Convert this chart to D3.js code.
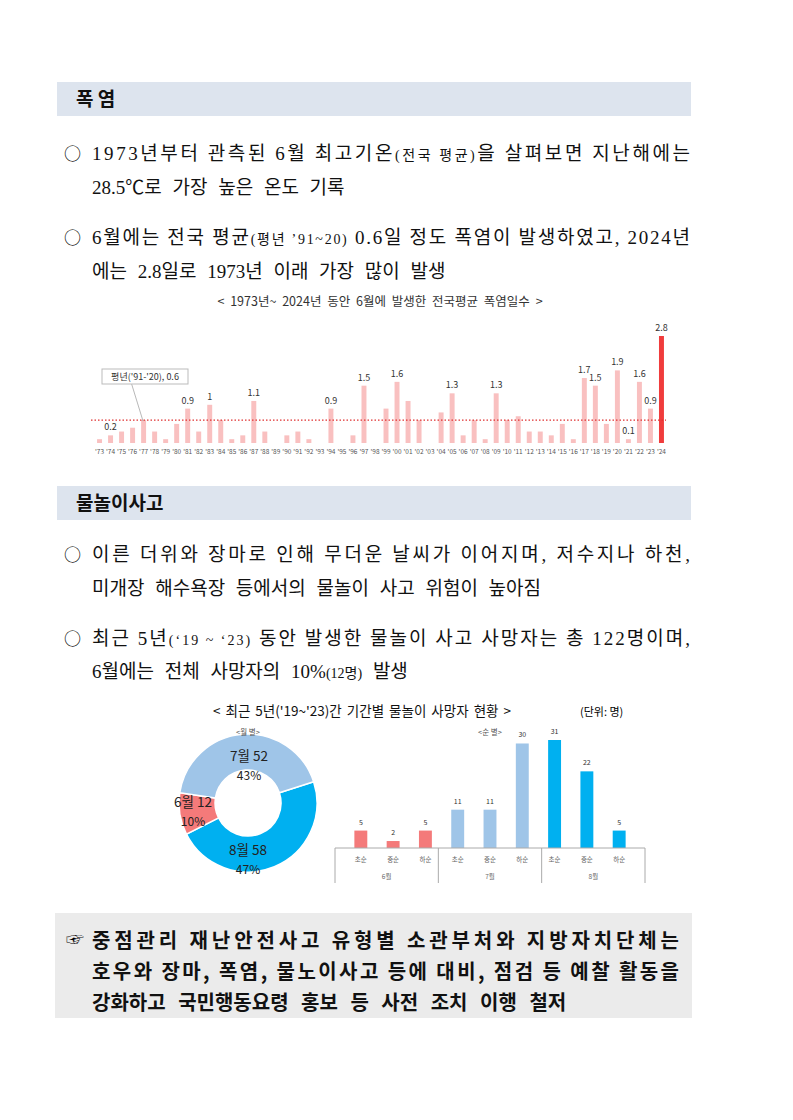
<!DOCTYPE html>
<html><head><meta charset="utf-8">
<script src="https://cdn.jsdelivr.net/npm/d3@7"></script>
<style>body{margin:0;background:#fff}svg{display:block}</style>
</head><body>
<svg id="page" width="793" height="1120"></svg>
<script>
// 폭염일수 데이터 (1973~2024)
const years = d3.range(1973, 2025);
const heatDays = [0.1,0.2,0.3,0.4,0.6,0.3,0.1,0.5,0.9,0.3,1.0,0.6,0.1,0.2,1.1,0.3,0,0.2,0.3,0.1,0,0.9,0,0.2,1.5,0,0.9,1.6,1.1,0.6,0,0.8,1.3,0.2,0.6,0.1,1.3,0.6,0.7,0.3,0.3,0.2,0.5,0.1,1.7,1.5,0.5,1.9,0.1,1.6,0.9,2.8];
const labeledYears = [1974,1981,1983,1987,1994,1997,2000,2005,2009,2017,2018,2020,2021,2022,2023,2024];
const normal = 0.6;

// 물놀이 사망자
const months = ["8월", "6월", "7월"];
const monthDeaths = [58, 12, 52];
const monthPct = ["47%", "10%", "43%"];
const periods = ["초순", "중순", "하순"];
const periodMonths = ["6월", "7월", "8월"];
const periodDeaths = [5, 2, 5, 11, 11, 30, 31, 22, 5];

const svg = d3.select("#page");
const KR = "'Noto Sans CJK KR', sans-serif";
const SERIF = "'Liberation Serif', 'Noto Sans CJK KR', serif";

function header(y, label) {
  svg.append("rect").attr("x", 57).attr("y", y).attr("width", 634).attr("height", 34).attr("fill", "#dde4ee");
  svg.append("text").attr("x", 76).attr("y", y + 24).attr("font-family", KR).attr("font-weight", 700)
    .attr("font-size", 19).attr("fill", "#111").text(label);
}

// 본문 줄: parts = [[text, small?], ...]
function line(y, parts, bullet, justify) {
  if (bullet) svg.append("text").attr("x", 64).attr("y", y).attr("font-family", KR).attr("font-size", 17).text("○");
  const t = svg.append("text").attr("x", 92).attr("y", y).attr("font-family", SERIF).attr("font-size", 19)
    .attr("fill", "#111").attr("word-spacing", justify ? 0 : 6);
  parts.forEach(p => t.append("tspan").attr("font-size", p[1] ? 14 : 19).text(p[0]));
  if (justify) t.attr("textLength", 598).attr("lengthAdjust", "spacing");
}

header(82, "폭 염");
line(160, [["1973년부터 관측된 6월 최고기온"], ["(전국 평균)", 1], ["을 살펴보면 지난해에는"]], true, true);
line(194, [["28.5℃로 가장 높은 온도 기록"]]);
line(244, [["6월에는 전국 평균"], ["(평년 ’91~20)", 1], [" 0.6일 정도 폭염이 발생하였고, 2024년"]], true, true);
line(278, [["에는 2.8일로 1973년 이래 가장 많이 발생"]]);

svg.append("text").attr("x", 380).attr("y", 306).attr("text-anchor", "middle").attr("font-family", KR)
  .attr("font-size", 12.5).attr("fill", "#333").attr("word-spacing", 3).text("< 1973년~  2024년  동안  6월에  발생한  전국평균  폭염일수 >");

// 폭염 막대
const x1 = d3.scaleBand().domain(years).range([91, 670]).padding(0.55);
const y1 = d3.scaleLinear().domain([0, 2.8]).range([443, 336]);
const g1 = svg.append("g");
g1.selectAll("rect").data(years).join("rect")
  .attr("x", d => x1(d)).attr("width", x1.bandwidth())
  .attr("y", (d, i) => y1(heatDays[i])).attr("height", (d, i) => 443 - y1(heatDays[i]))
  .attr("fill", d => d === 2024 ? "#f03c3c" : "#f9c0c0");
g1.append("line").attr("x1", 91).attr("x2", 666).attr("y1", y1(normal)).attr("y2", y1(normal))
  .attr("stroke", "#e03030").attr("stroke-width", 1.2).attr("stroke-dasharray", "1.5,2");
g1.selectAll(".v").data(labeledYears).join("text")
  .attr("x", d => x1(d) + x1.bandwidth() / 2).attr("y", d => y1(heatDays[d - 1973]) - 5)
  .attr("text-anchor", "middle").attr("font-family", KR).attr("font-size", 9).attr("fill", "#333")
  .text(d => heatDays[d - 1973]);
g1.selectAll(".t").data(years).join("text")
  .attr("x", d => x1(d) + x1.bandwidth() / 2).attr("y", 454).attr("text-anchor", "middle")
  .attr("font-family", KR).attr("font-size", 6.5).attr("fill", "#555").text(d => "'" + String(d).slice(2));
g1.append("line").attr("x1", 131).attr("y1", 382).attr("x2", 143).attr("y2", 421).attr("stroke", "#999").attr("stroke-width", 0.7);
g1.append("rect").attr("x", 102).attr("y", 369).attr("width", 86).attr("height", 15).attr("fill", "#fff").attr("stroke", "#bbb");
g1.append("text").attr("x", 145).attr("y", 380).attr("text-anchor", "middle").attr("font-family", KR)
  .attr("font-size", 9).attr("fill", "#333").text("평년('91-'20), 0.6");

header(486, "물놀이사고");
line(561, [["이른 더위와 장마로 인해 무더운 날씨가 이어지며, 저수지나 하천,"]], true, true);
line(595, [["미개장 해수욕장 등에서의 물놀이 사고 위험이 높아짐"]]);
line(645, [["최근 5년"], ["(‘19 ~ ‘23)", 1], [" 동안 발생한 물놀이 사고 사망자는 총 122명이며,"]], true, true);
line(678, [["6월에는 전체 사망자의 10%"], ["(12명)", 1], [" 발생"]]);

svg.append("text").attr("x", 362).attr("y", 716).attr("text-anchor", "middle").attr("font-family", KR)
  .attr("font-size", 13.5).attr("fill", "#111").attr("word-spacing", 2).text("< 최근 5년('19~'23)간 기간별 물놀이 사망자 현황 >");
svg.append("text").attr("x", 580).attr("y", 716).attr("font-family", KR).attr("font-size", 11).text("(단위:  명)");

// 도넛
const cx = 248, cy = 803;
const pie = d3.pie().sort(null).startAngle(72 * Math.PI / 180).endAngle(72 * Math.PI / 180 + 2 * Math.PI);
const arcs = pie(monthDeaths);
const arc = d3.arc().innerRadius(33).outerRadius(69);
const colors = ["#00b0f0", "#f47a7a", "#9fc5e8"];
svg.append("g").attr("transform", `translate(${cx},${cy})`).selectAll("path").data(arcs).join("path")
  .attr("d", arc).attr("fill", (d, i) => colors[i]).attr("stroke", "#fff").attr("stroke-width", 1.5);
const labelPos = [[248, 855], [193, 807], [249, 761]];
months.forEach((m, i) => {
  const t = svg.append("text").attr("x", labelPos[i][0]).attr("y", labelPos[i][1]).attr("text-anchor", "middle")
    .attr("font-family", KR).attr("font-size", 13.5).attr("fill", "#222");
  t.append("tspan").attr("x", labelPos[i][0]).text(m + " " + monthDeaths[i]);
  t.append("tspan").attr("x", labelPos[i][0]).attr("dy", 19).attr("font-size", 12).text(monthPct[i]);
});
svg.append("text").attr("x", 248).attr("y", 735).attr("text-anchor", "middle").attr("font-family", KR).attr("font-size", 7.5).attr("fill", "#555").text("<월 별>");
svg.append("text").attr("x", 490).attr("y", 735).attr("text-anchor", "middle").attr("font-family", KR).attr("font-size", 7.5).attr("fill", "#555").text("<순 별>");

// 순별 막대
const idx = d3.range(periodDeaths.length);
const x2 = d3.scaleBand().domain(idx).range([335, 645]).padding(0.6);
const y2 = d3.scaleLinear().domain([0, 31]).range([848, 740]);
const barCol = i => i < 3 ? "#f47a7a" : i < 6 ? "#9fc5e8" : "#00b0f0";
const g2 = svg.append("g");
g2.selectAll("rect").data(idx).join("rect")
  .attr("x", i => x2(i)).attr("width", x2.bandwidth())
  .attr("y", i => y2(periodDeaths[i])).attr("height", i => 848 - y2(periodDeaths[i])).attr("fill", barCol);
g2.selectAll(".v").data(idx).join("text").attr("x", i => x2(i) + x2.bandwidth() / 2).attr("y", i => y2(periodDeaths[i]) - 6)
  .attr("text-anchor", "middle").attr("font-family", KR).attr("font-size", 7).attr("fill", "#333").text(i => periodDeaths[i]);
g2.selectAll(".p").data(idx).join("text").attr("x", i => x2(i) + x2.bandwidth() / 2).attr("y", 862)
  .attr("text-anchor", "middle").attr("font-family", KR).attr("font-size", 6.5).attr("fill", "#666").text(i => periods[i % 3]);
g2.append("line").attr("x1", 335).attr("x2", 645).attr("y1", 848).attr("y2", 848).attr("stroke", "#aaa");
[0, 3, 6, 9].forEach(k => g2.append("line").attr("x1", 335 + k * 310 / 9).attr("x2", 335 + k * 310 / 9)
  .attr("y1", 848).attr("y2", 883).attr("stroke", "#aaa"));
periodMonths.forEach((m, k) => g2.append("text").attr("x", 335 + (k * 3 + 1.5) * 310 / 9).attr("y", 879)
  .attr("text-anchor", "middle").attr("font-family", KR).attr("font-size", 6.5).attr("fill", "#666").text(m));

// 하단 박스
svg.append("rect").attr("x", 55).attr("y", 913).attr("width", 637).attr("height", 105).attr("fill", "#ebebeb");
const box = ["중점관리 재난안전사고 유형별 소관부처와 지방자치단체는",
  "호우와 장마, 폭염, 물노이사고 등에 대비, 점검 등 예찰 활동을",
  "강화하고 국민행동요령 홍보 등 사전 조치 이행 철저"];
svg.append("text").attr("x", 66).attr("y", 946).attr("font-family", KR).attr("font-size", 18).text("☞");
box.forEach((s, i) => {
  const t = svg.append("text").attr("x", 92).attr("y", 948 + i * 31).attr("font-family", KR)
    .attr("font-weight", 700).attr("font-size", 20).attr("fill", "#111").attr("word-spacing", i < 2 ? 0 : 8).text(s);
  if (i < 2) t.attr("textLength", 587).attr("lengthAdjust", "spacing");
});
</script>
</body></html>
